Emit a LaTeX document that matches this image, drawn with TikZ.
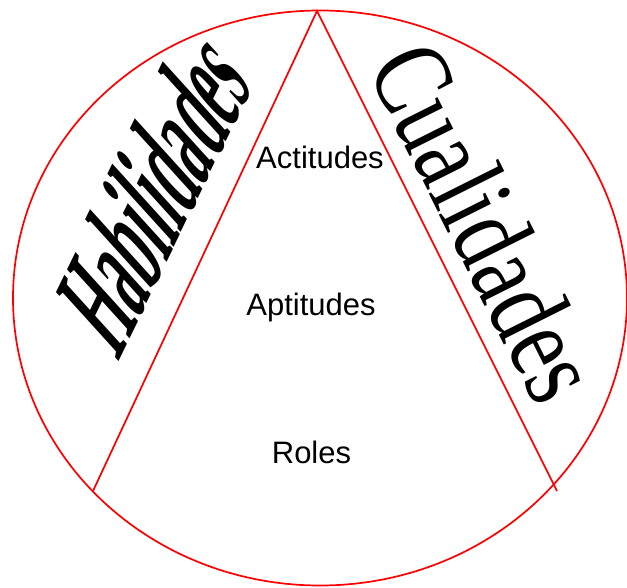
\documentclass[tikz,border=0pt]{standalone}
\usepackage{fontspec}
\usetikzlibrary{shapes.geometric}
\setmainfont{Liberation Serif}
\newfontfamily\arialf{Liberation Sans}
\begin{document}
\begin{tikzpicture}[x=1pt,y=1pt,
  redline/.style={draw=red, line width=1.7pt, line join=miter},
  lbl/.style={font=\arialf\fontsize{31}{31}\selectfont, anchor=base, inner sep=0pt},
  bigword/.style={transform shape, anchor=base west, inner sep=0pt}]
\useasboundingbox (0,0) rectangle (627,587);
% outer ellipse
\node[redline, ellipse, minimum width=614pt, minimum height=575pt, inner sep=0pt] (circ) at (320,289) {};
% triangle
\coordinate (apex) at (317,576);
\coordinate (bl) at (93,96);
\coordinate (br) at (557,96);
\draw[redline] (bl) -- (apex) -- (br);
% inner labels
\node[lbl] (act) at (320,418.5) {Actitudes};
\node[lbl] (apt) at (311,271) {Aptitudes};
\node[lbl] (rol) at (311.5,123.5) {Roles};
% Habilidades
\begin{scope}[shift={(118,224)}, rotate=64, xslant=0.4, yscale=2.2, xscale=1.0]
\node[bigword, font=\bfseries\fontsize{60}{60}\selectfont] (hab) at (0,0) {Habilidades};
\end{scope}
% Cualidades
\begin{scope}[shift={(366,519)}, rotate=-63.4, yscale=1.3]
\node[bigword, font=\fontsize{86}{86}\selectfont] (cua) at (0,0) {Cualidades};
\end{scope}
\end{tikzpicture}
\end{document}
